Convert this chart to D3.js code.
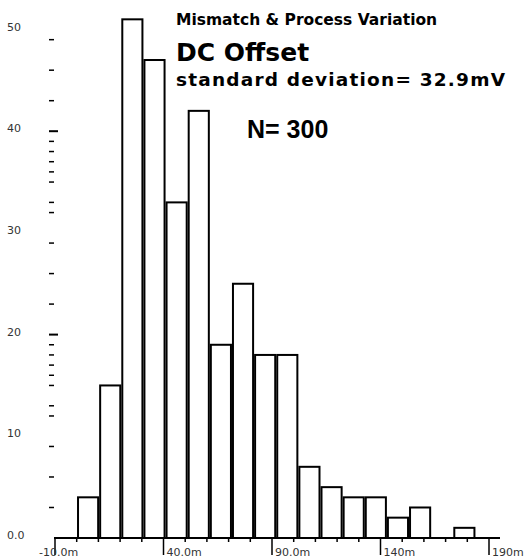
<!DOCTYPE html>
<html>
<head>
<meta charset="utf-8">
<script src="https://cdn.jsdelivr.net/npm/d3@7"></script>
<style>
  body { margin: 0; background: #fff; }
  svg { display: block; }
  .ylab, .xlab { font-family: "DejaVu Sans", sans-serif; font-size: 11px; fill: #333; }
</style>
</head>
<body>
<div id="root"></div>
<script>
// histogram counts, one per bin (mV)
var counts = [4, 15, 51, 47, 33, 42, 19, 25, 18, 18, 7, 5, 4, 4, 2, 3, 0, 1];
var binStart = 0.15;
var binWidth = 10.2;

// axis ticks
var xMajorTicks = [-10, 40, 90, 140, 190];
var xMajorLabels = ["-10.0m", "40.0m", "90.0m", "140m", "190m"];
var xMinorTicks = [0, 10, 20, 30, 50, 60, 70, 80, 100, 110, 120, 130, 150, 160, 170, 180];
var yLabelValues = [50, 40, 30, 20, 10, 0];
var yLabels = ["50", "40", "30", "20", "10", "0.0"];
var yMajorTicks = [40, 20];
var yMinorTicks = [49, 46, 43, 39, 38, 37, 36, 35, 33, 32, 29, 26, 23, 19, 18, 17, 16, 15, 13, 12, 9, 6, 3];

var w = 527, h = 558;

var svg = d3.select("#root").append("svg").attr("width", w).attr("height", h);
svg.append("rect").attr("width", w).attr("height", h).attr("fill", "white");

var x = d3.scaleLinear().domain([-10, 190]).range([55, 489]);
var y = d3.scaleLinear().domain([0, 50]).range([538, 29.5]);

var bins = counts.map(function(c, i) {
  return { x0: binStart + i * binWidth, x1: binStart + (i + 1) * binWidth, n: c };
}).filter(function(d) { return d.n > 0; });

// bars
svg.selectAll("rect.bar").data(bins).enter().append("rect")
  .attr("class", "bar")
  .attr("x", function(d) { return x(d.x0) + 1; })
  .attr("width", function(d) { return x(d.x1) - x(d.x0) - 2; })
  .attr("y", function(d) { return y(d.n); })
  .attr("height", function(d) { return y(0) - y(d.n); })
  .attr("fill", "white").attr("stroke", "black").attr("stroke-width", 2);

// x axis line
svg.append("line").attr("x1", 54).attr("x2", 500).attr("y1", y(0)).attr("y2", y(0))
  .attr("stroke", "black").attr("stroke-width", 2);

svg.selectAll("line.xmin").data(xMinorTicks).enter().append("line")
  .attr("x1", function(d) { return x(d); }).attr("x2", function(d) { return x(d); })
  .attr("y1", y(0)).attr("y2", y(0) + 4)
  .attr("stroke", "black").attr("stroke-width", 1.5);

svg.selectAll("line.xmaj").data(xMajorTicks).enter().append("line")
  .attr("x1", function(d) { return x(d); }).attr("x2", function(d) { return x(d); })
  .attr("y1", y(0)).attr("y2", y(0) + 17)
  .attr("stroke", "black").attr("stroke-width", 1.5);

svg.selectAll("text.xlab").data(xMajorTicks).enter().append("text")
  .attr("class", "xlab")
  .attr("x", function(d) { return x(d) + (d < 0 ? -16 : 3); })
  .attr("y", 556)
  .text(function(d, i) { return xMajorLabels[i]; });

// y ticks (no axis line)
svg.selectAll("line.ymin").data(yMinorTicks).enter().append("line")
  .attr("x1", 49).attr("x2", 54)
  .attr("y1", function(d) { return y(d); }).attr("y2", function(d) { return y(d); })
  .attr("stroke", "black").attr("stroke-width", 1.5);

svg.selectAll("line.ymaj").data(yMajorTicks).enter().append("line")
  .attr("x1", 49).attr("x2", 58)
  .attr("y1", function(d) { return y(d); }).attr("y2", function(d) { return y(d); })
  .attr("stroke", "black").attr("stroke-width", 2);

svg.selectAll("text.ylab").data(yLabelValues).enter().append("text")
  .attr("class", "ylab")
  .attr("x", 7)
  .attr("y", function(d) { return y(d) + 1; })
  .text(function(d, i) { return yLabels[i]; });

// titles
svg.append("text").attr("x", 176).attr("y", 25)
  .style("font-family", "DejaVu Sans").style("font-weight", "bold").style("font-size", "15.5px")
  .text("Mismatch & Process Variation");
svg.append("text").attr("x", 176).attr("y", 61)
  .style("font-family", "DejaVu Sans").style("font-weight", "bold").style("font-size", "25px")
  .text("DC Offset");
svg.append("text").attr("x", 176).attr("y", 86)
  .style("font-family", "DejaVu Sans").style("font-weight", "bold").style("font-size", "18.5px")
  .style("letter-spacing", "1.2px")
  .text("standard deviation= 32.9mV");
svg.append("text").attr("x", 247).attr("y", 138)
  .style("font-family", "Liberation Sans").style("font-weight", "bold").style("font-size", "25px")
  .text("N= 300");
</script>
</body>
</html>
